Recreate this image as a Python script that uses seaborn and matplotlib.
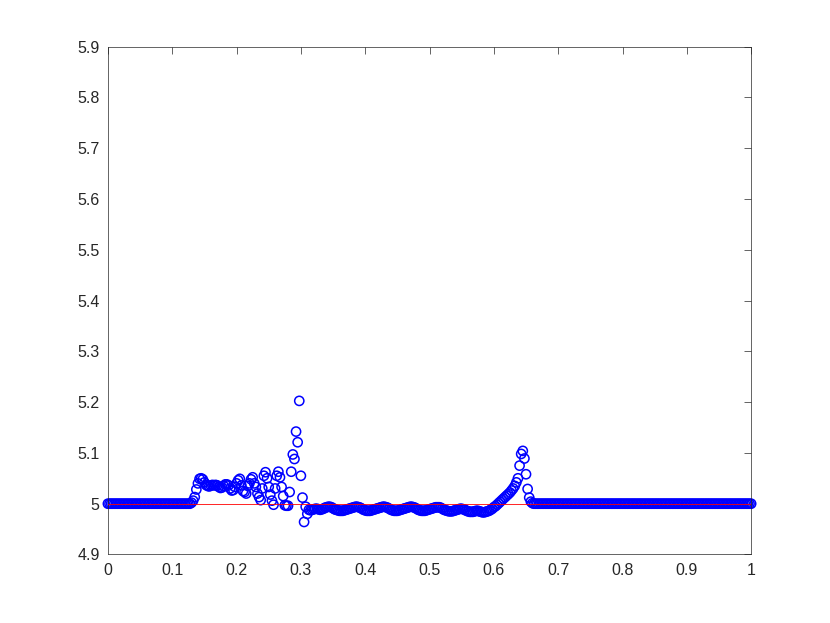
import numpy as np
import pandas as pd
import matplotlib
matplotlib.use("Agg")
import matplotlib.pyplot as plt
import seaborn as sns

dx = 0.0025

y_left_flat = [5.0] * 52
y_rise = [5.002, 5.006, 5.013, 5.028, 5.040, 5.049, 5.050, 5.048, 5.042, 5.037,
          5.035, 5.034, 5.036, 5.037, 5.036, 5.037, 5.036, 5.033, 5.031, 5.032,
          5.035, 5.038, 5.038, 5.036, 5.030, 5.026]
y_oscill = [5.027, 5.033, 5.040, 5.046, 5.049, 5.036, 5.025, 5.023, 5.020, 5.035,
            5.040, 5.048, 5.052, 5.040, 5.033, 5.020, 5.013, 5.007, 5.030, 5.055,
            5.062, 5.050, 5.033, 5.018, 5.006, 4.998, 5.030, 5.055, 5.063, 5.052,
            5.033, 5.015, 4.997, 4.996, 4.996, 5.023, 5.063, 5.097, 5.088, 5.142,
            5.121, 5.2025, 5.055, 5.012, 4.964, 4.994, 4.980]
y_wave = [4.988, 4.987, 4.988, 4.989, 4.990, 4.990, 4.989, 4.988, 4.989, 4.990,
          4.992, 4.993, 4.994, 4.994, 4.993, 4.991, 4.989, 4.988, 4.987, 4.986,
          4.986, 4.986, 4.987, 4.988, 4.989, 4.990, 4.991, 4.992, 4.993, 4.994,
          4.994, 4.993, 4.992, 4.990, 4.988, 4.987, 4.986, 4.986, 4.986, 4.987,
          4.988, 4.989, 4.990, 4.991, 4.992, 4.993, 4.994, 4.994, 4.993, 4.992,
          4.990, 4.988, 4.987, 4.986, 4.986, 4.986, 4.987, 4.988, 4.989, 4.990,
          4.991, 4.992, 4.993, 4.994, 4.994, 4.993, 4.992, 4.990, 4.988, 4.987,
          4.986, 4.986, 4.986, 4.987, 4.988, 4.989, 4.990, 4.991, 4.992, 4.993,
          4.993, 4.993, 4.992, 4.990, 4.988, 4.987, 4.986, 4.985, 4.985, 4.985,
          4.986, 4.987, 4.988, 4.989, 4.990, 4.990, 4.989, 4.988, 4.986, 4.985,
          4.984, 4.984, 4.984, 4.985, 4.986, 4.986, 4.985]
y_bump = [4.984, 4.983, 4.983, 4.984, 4.985, 4.986, 4.988, 4.990, 4.993, 4.995,
          4.998, 5.001, 5.004, 5.007, 5.010, 5.013, 5.016, 5.019, 5.022, 5.026,
          5.030, 5.035, 5.042, 5.050, 5.075, 5.098, 5.104, 5.089, 5.058, 5.029,
          5.012, 5.004, 5.001]

y_num = y_left_flat + y_rise + y_oscill + y_wave + y_bump
n_right = 401 - len(y_num)
y_right_flat = [5.0] * n_right
y_num = y_num + y_right_flat
x_num = np.arange(len(y_num)) * dx

x_exact = [0.0, 1.0]
y_exact = [5.0, 5.0]

x_ticks = [0, 0.1, 0.2, 0.3, 0.4, 0.5, 0.6, 0.7, 0.8, 0.9, 1]
x_ticklabels = ["0", "0.1", "0.2", "0.3", "0.4", "0.5", "0.6", "0.7", "0.8", "0.9", "1"]
y_ticks = [4.9, 5.0, 5.1, 5.2, 5.3, 5.4, 5.5, 5.6, 5.7, 5.8, 5.9]
y_ticklabels = ["4.9", "5", "5.1", "5.2", "5.3", "5.4", "5.5", "5.6", "5.7", "5.8", "5.9"]

df_num = pd.DataFrame({"x": x_num, "y": y_num})
df_exact = pd.DataFrame({"x": x_exact, "y": y_exact})

sns.set_style("white")
plt.rcParams["font.family"] = ["Liberation Sans", "DejaVu Sans"]

fig = plt.figure(figsize=(8.30, 6.23), dpi=100)
ax = fig.add_axes([0.13, 0.11, 0.775, 0.815])

sns.scatterplot(data=df_num, x="x", y="y", ax=ax, marker="o", s=44,
                facecolors="none", edgecolor="#0000ff", linewidth=1.1,
                clip_on=False, zorder=2, legend=False)
sns.lineplot(data=df_exact, x="x", y="y", ax=ax, color="#ff0000",
             linewidth=0.6, zorder=3, legend=False)

ax.set_xlim(0, 1)
ax.set_ylim(4.9, 5.9)
ax.set_xticks(x_ticks)
ax.set_xticklabels(x_ticklabels)
ax.set_yticks(y_ticks)
ax.set_yticklabels(y_ticklabels)
ax.set_xlabel("")
ax.set_ylabel("")
ax.tick_params(direction="in", length=5, width=0.5, colors="#262626",
               labelsize=11.5, top=True, right=True, pad=6)
for sp in ax.spines.values():
    sp.set_visible(True)
    sp.set_color("#262626")
    sp.set_linewidth(0.5)

fig.savefig("out.png", dpi=100)
